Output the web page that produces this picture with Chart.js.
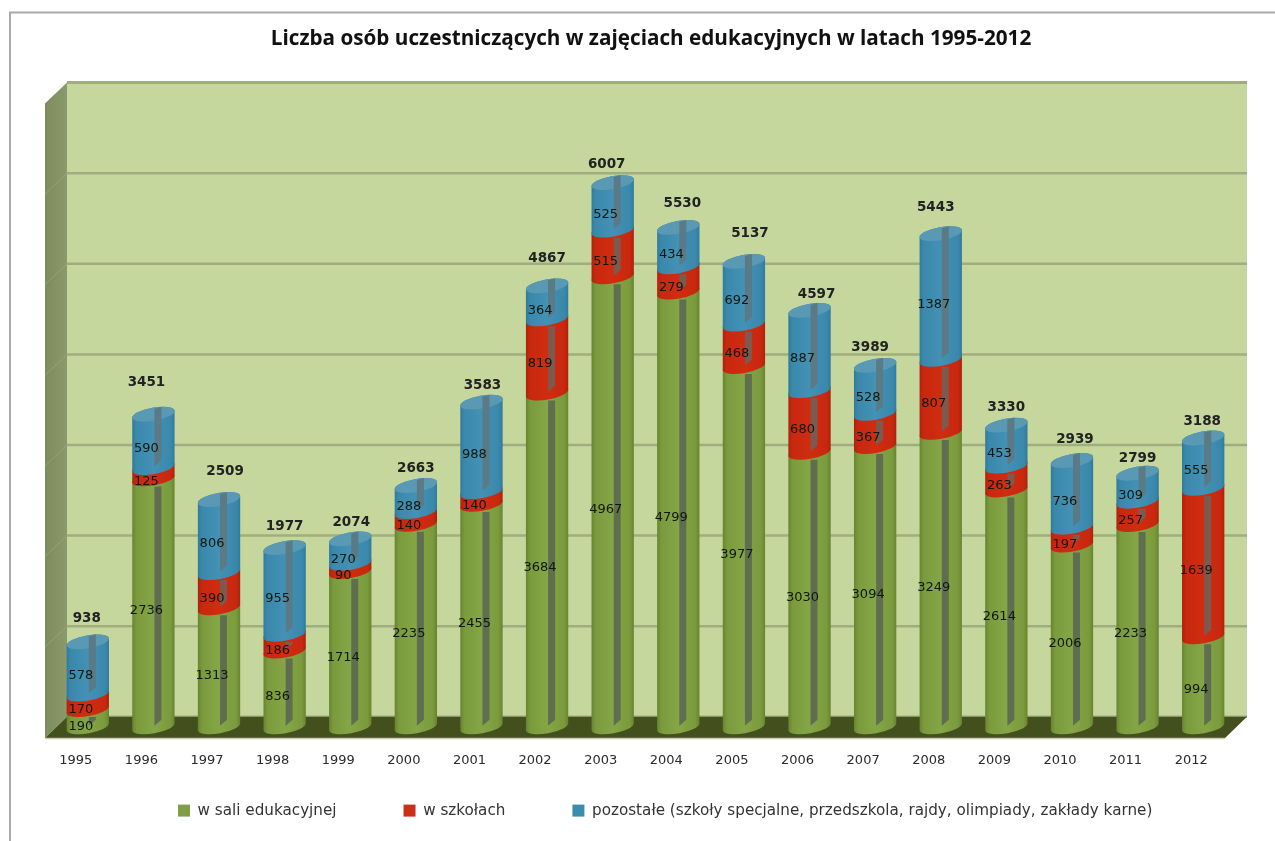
<!DOCTYPE html>
<html lang="pl">
<head>
<meta charset="utf-8">
<title>Liczba osób</title>
<script src="https://cdn.jsdelivr.net/npm/chart.js@4"></script>
<style>
html,body{margin:0;padding:0;background:#fff}
#wrap{position:relative;width:1275px;height:841px}
canvas{display:block;filter:blur(0.6px)}
</style>
</head>
<body>
<div id="wrap"><canvas id="c" width="1275" height="841"></canvas></div>
<script>
const chartTitle = "Liczba osób uczestniczących w zajęciach edukacyjnych w latach 1995-2012";
const years = ["1995","1996","1997","1998","1999","2000","2001","2002","2003","2004","2005","2006","2007","2008","2009","2010","2011","2012"];
const salaValues = [190,2736,1313,836,1714,2235,2455,3684,4967,4799,3977,3030,3094,3249,2614,2006,2233,994];
const szkolyValues = [170,125,390,186,90,140,140,819,515,279,468,680,367,807,263,197,257,1639];
const pozostaleValues = [578,590,806,955,270,288,988,364,525,434,692,887,528,1387,453,736,309,555];
const totals = [938,3451,2509,1977,2074,2663,3583,4867,6007,5530,5137,4597,3989,5443,3330,2939,2799,3188];
const gridValues = [0,1000,2000,3000,4000,5000,6000,7000];
const totalNudgeX = [-1,-7,6,0,1,0,1,0,-6,4,6,7,-5,-5,0,3,0,-1];
const totalNudgeY = [-23,-32,-28,-21,-16,-17,-17,-27,-18,-24,-28,-16,-18,-26,-18,-21,-15,-16];

const palette = [
  {legend:'#7f9e45', edge:'#66812f', mid:'#7a9a3d', light:'#85a646', cap:'#93ad5e', stripe:'#5f6e4e'},
  {legend:'#c8301a', edge:'#a9220d', mid:'#c8280f', light:'#d02c10', cap:'#d8452c', stripe:'#7d5a50'},
  {legend:'#3c8cae', edge:'#30789a', mid:'#3a89ad', light:'#4392b5', cap:'#5a99b3', stripe:'#5a7a88'}
];
const DEPTH_Y = 10, TILT = -10*Math.PI/180, MINOR = 6.5;

function grad(ctx, x, w, p){
  const g = ctx.createLinearGradient(x-w/2,0,x+w/2,0);
  g.addColorStop(0,p.edge); g.addColorStop(.1,p.mid); g.addColorStop(.5,p.light); g.addColorStop(.9,p.mid); g.addColorStop(1,p.edge);
  return g;
}

const scene = {
  id:'scene',
  afterLayout(chart){
    const l = chart.legend;
    const pad = l.options.labels.padding;
    const w = l.right-l.left;
    l.left = 178-pad; l.right = l.left+w+60;
    l.top = 803-pad; l.bottom = 824;
    const t = chart.titleBlock;
    t.left += 5.5; t.right += 5.5;
  },
  beforeDraw(chart){
    const {ctx, scales:{y}} = chart;
    const zero = y.getPixelForValue(0), top = y.getPixelForValue(7000);
    const backT = top-DEPTH_Y, backB = zero-DEPTH_Y;
    const L0 = 45, L1 = 67, R1 = 1247, R0 = 1225, frontB = 738, frontT = backT+21;
    ctx.save();
    ctx.strokeStyle='#a9a9a9'; ctx.lineWidth=2;
    ctx.beginPath(); ctx.moveTo(10,841); ctx.lineTo(10,12.5); ctx.lineTo(1275,12.5); ctx.stroke();
    ctx.fillStyle='#c5d79d'; ctx.fillRect(L1,backT,R1-L1,backB-backT);
    const sg = ctx.createLinearGradient(L0,0,L1,0); sg.addColorStop(0,'#7e8c5c'); sg.addColorStop(1,'#8a9a6c');
    ctx.fillStyle=sg;
    ctx.beginPath(); ctx.moveTo(L0,frontT); ctx.lineTo(L1,backT); ctx.lineTo(L1,backB); ctx.lineTo(L0,frontB); ctx.closePath(); ctx.fill();
    gridValues.forEach(v=>{
      const py = y.getPixelForValue(v)-DEPTH_Y;
      ctx.strokeStyle='#a0ae7f'; ctx.lineWidth = v===7000?3:2.5;
      ctx.beginPath(); ctx.moveTo(L1,py); ctx.lineTo(R1,py); ctx.stroke();
      if(v!==0 && v!==7000){
        ctx.strokeStyle='rgba(165,178,135,.5)'; ctx.lineWidth=1;
        ctx.beginPath(); ctx.moveTo(L1,py); ctx.lineTo(L0,py+21); ctx.stroke();
      }
    });
    ctx.fillStyle='#434f1d';
    ctx.beginPath(); ctx.moveTo(L1,backB); ctx.lineTo(R1,backB); ctx.lineTo(R0,frontB); ctx.lineTo(L0,frontB); ctx.closePath(); ctx.fill();
    ctx.strokeStyle='#c9ccbb'; ctx.lineWidth=1.5;
    ctx.beginPath(); ctx.moveTo(L0,frontB+.5); ctx.lineTo(R0,frontB+.5); ctx.stroke();
    ctx.restore();
  },
  beforeDatasetsDraw(chart){
    const {ctx} = chart;
    ctx.save();
    const metas = chart.data.datasets.map((d,i)=>chart.getDatasetMeta(i));
    years.forEach((yr,i)=>{
      metas.forEach((m,si)=>{
        const el = m.data[i].getProps(['x','y','base','width'],true);
        const p = palette[si], a = el.width/2, isTop = si===metas.length-1;
        ctx.fillStyle = grad(ctx,el.x,el.width,p);
        ctx.beginPath();
        ctx.ellipse(el.x,el.base,a,MINOR,TILT,0,Math.PI,false);
        ctx.ellipse(el.x,el.y,a,MINOR,TILT,Math.PI,2*Math.PI,false);
        ctx.closePath(); ctx.fill();
        if(isTop){
          ctx.fillStyle=p.cap;
          ctx.beginPath(); ctx.ellipse(el.x,el.y,a,MINOR,TILT,0,2*Math.PI); ctx.fill();
        }
        const sTop = isTop ? el.y-MINOR+1 : el.y+MINOR+1, sBot = el.base-1;
        if(sBot-sTop>8){
          ctx.fillStyle=p.stripe;
          ctx.beginPath();
          ctx.moveTo(el.x+1,sTop); ctx.lineTo(el.x+8,sTop-(isTop?2:0));
          ctx.lineTo(el.x+8,sBot-6); ctx.lineTo(el.x+1,sBot);
          ctx.closePath(); ctx.fill();
        }
      });
    });
    ctx.textAlign='center'; ctx.textBaseline='middle';
    ctx.font='13px "DejaVu Sans"';
    ctx.fillStyle='#10180c';
    years.forEach((yr,i)=>{
      metas.forEach((m,si)=>{
        const el = m.data[i].getProps(['x','y','base','width'],true);
        const v = chart.data.datasets[si].data[i];
        ctx.fillText(String(v), el.x-7, (el.y+el.base)/2+8);
      });
    });
    ctx.font='bold 13.5px "DejaVu Sans"';
    ctx.fillStyle='#222';
    years.forEach((yr,i)=>{
      const el = metas[2].data[i].getProps(['x','y'],true);
      ctx.fillText(String(totals[i]), el.x+totalNudgeX[i], el.y+totalNudgeY[i]);
    });
    ctx.restore();
    return false;
  }
};

new Chart(document.getElementById('c'),{
  type:'bar',
  data:{
    labels:years,
    datasets:[
      {label:'w sali edukacyjnej',data:salaValues,backgroundColor:palette[0].legend},
      {label:'w szkołach',data:szkolyValues,backgroundColor:palette[1].legend},
      {label:'pozostałe (szkoły specjalne, przedszkola, rajdy, olimpiady, zakłady karne)',data:pozostaleValues,backgroundColor:palette[2].legend}
    ]
  },
  plugins:[scene],
  options:{
    responsive:false,animation:false,
    layout:{padding:{left:55,right:39,top:0,bottom:16.6}},
    datasets:{bar:{barPercentage:.655,categoryPercentage:1}},
    plugins:{
      tooltip:{enabled:false},
      title:{display:true,text:chartTitle,color:'#111',font:{family:'"Open Sans"',size:20.7,weight:'bold',lineHeight:1.0},padding:{top:28.4,bottom:43.5}},
      legend:{display:true,position:'bottom',align:'start',maxHeight:30,
        labels:{boxWidth:12,boxHeight:12,padding:67,color:'#333',font:{family:'"DejaVu Sans"',size:15.2}}}
    },
    scales:{
      x:{stacked:true,grid:{display:false,drawTicks:false},border:{display:false},
         ticks:{padding:26,labelOffset:-12,maxRotation:0,autoSkip:false,color:'#2a2a2a',font:{family:'"DejaVu Sans"',size:13}}},
      y:{stacked:true,display:false,min:0,max:7000,ticks:{stepSize:1000}}
    }
  }
});
</script>
</body>
</html>
